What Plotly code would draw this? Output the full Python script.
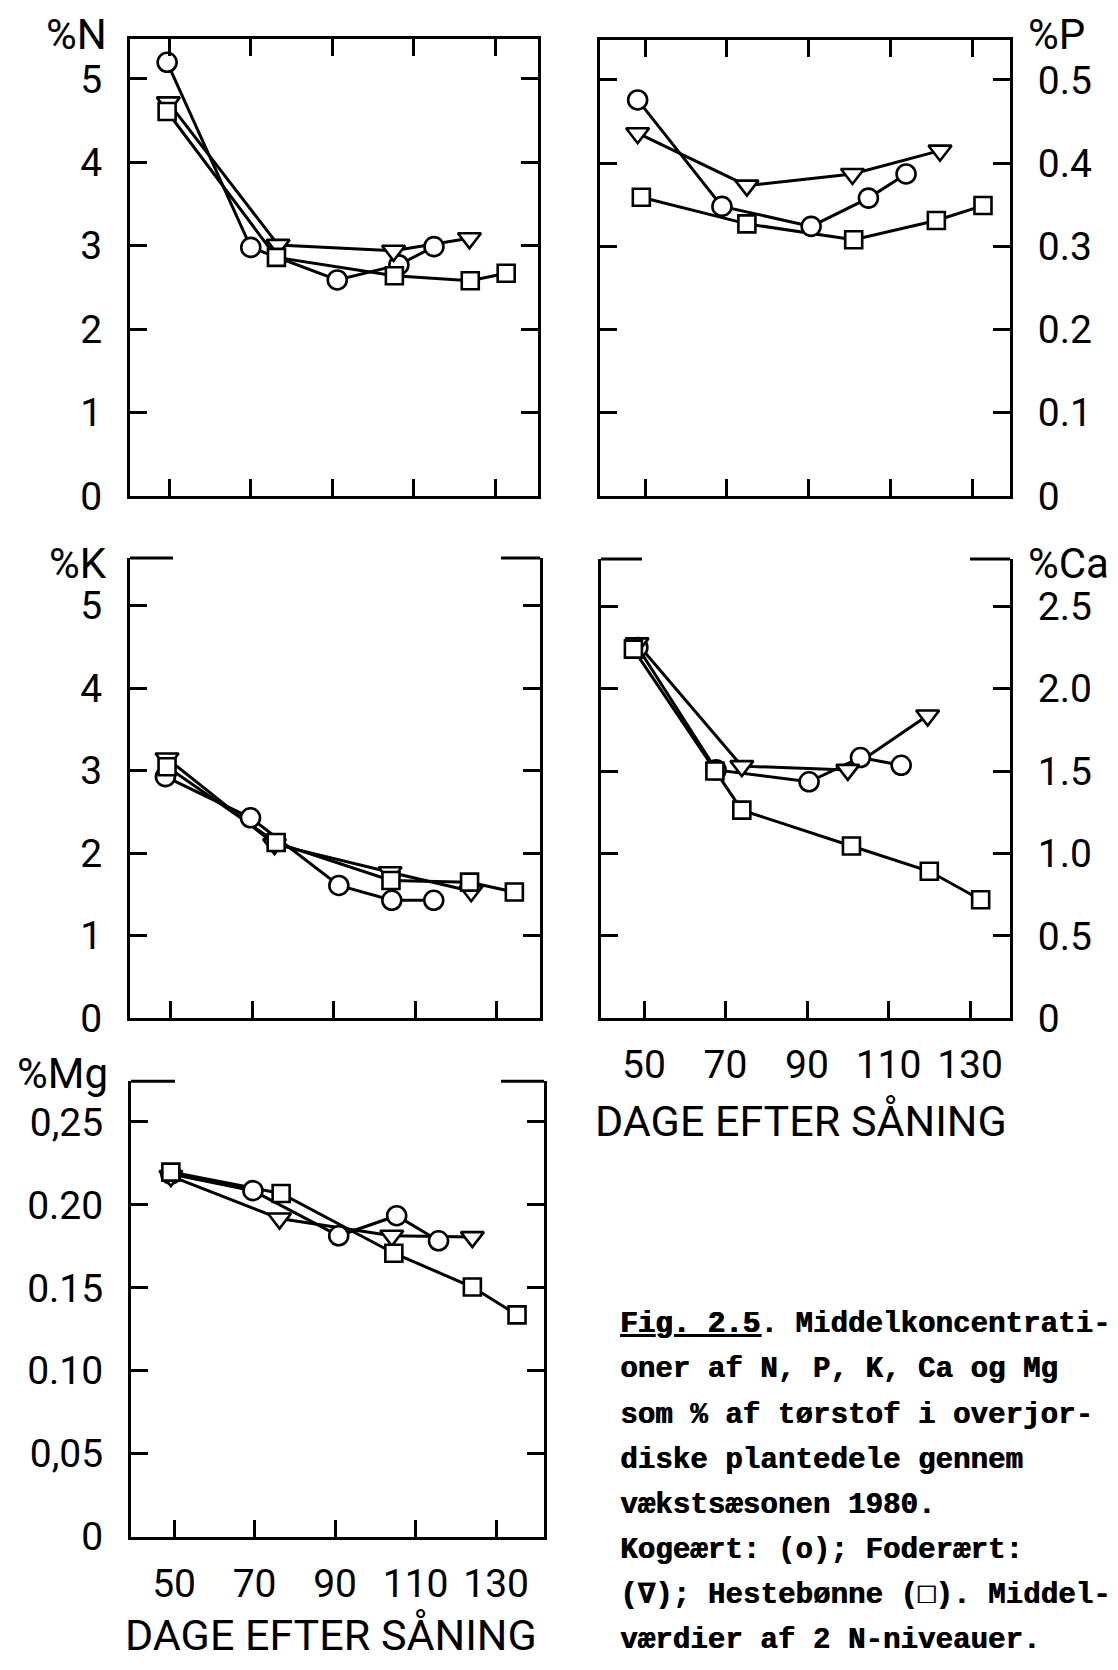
import plotly.graph_objects as go

W, H = 1118, 1670

# ---------------- data (days after sowing, % of dry matter) ----------------
N_koge_day = [49.5, 70, 91.2, 106.3, 114.9]
N_koge = [5.20, 2.98, 2.59, 2.77, 2.99]
N_foder_day = [49.8, 76.7, 105, 123.6]
N_foder = [4.72, 3.01, 2.94, 3.09]
N_heste_day = [49.5, 76.3, 105.2, 123.8, 132.6]
N_heste = [4.61, 2.86, 2.64, 2.58, 2.67]

P_koge_day = [48.2, 68.8, 90.6, 104.6, 113.8]
P_koge = [0.476, 0.348, 0.324, 0.358, 0.387]
P_foder_day = [48.2, 74.9, 100.7, 122.1]
P_foder = [0.436, 0.373, 0.387, 0.415]
P_heste_day = [49.1, 74.9, 101, 121.2, 132.6]
P_heste = [0.359, 0.327, 0.308, 0.331, 0.349]

K_koge_day = [48.7, 69.6, 91.3, 104.3, 114.6]
K_koge = [2.93, 2.43, 1.61, 1.43, 1.43]
K_foder_day = [49.1, 75.5, 103.9, 123.8]
K_foder = [3.15, 2.11, 1.77, 1.54]
K_heste_day = [49.1, 75.9, 104.1, 123.4, 134.4]
K_heste = [3.05, 2.13, 1.67, 1.65, 1.53]

Ca_koge_day = [48.5, 67.7, 90.5, 103.1, 113.1]
Ca_koge = [2.25, 1.507, 1.435, 1.582, 1.535]
Ca_foder_day = [48.3, 74, 100, 119.6]
Ca_foder = [2.275, 1.53, 1.507, 1.837]
Ca_heste_day = [47.4, 67.4, 74, 100.9, 120, 132.6]
Ca_heste = [2.24, 1.50, 1.263, 1.045, 0.892, 0.719]

Mg_koge_day = [49.2, 69.6, 90.9, 105.3, 115.7]
Mg_koge = [0.2186, 0.2086, 0.1814, 0.1935, 0.1784]
Mg_foder_day = [49.2, 76.2, 104.1, 124.1]
Mg_foder = [0.2174, 0.1918, 0.1814, 0.1806]
Mg_heste_day = [49.2, 76.6, 104.6, 124.1, 135.2]
Mg_heste = [0.2198, 0.2069, 0.1709, 0.1505, 0.1337]

x_ticks = [50, 70, 90, 110, 130]
x_ticktext = ["50", "70", "90", "110", "130"]

N_ticks = [0, 1, 2, 3, 4, 5]
N_ticktext = ["0", "1", "2", "3", "4", "5"]
P_ticks = [0, 0.1, 0.2, 0.3, 0.4, 0.5]
P_ticktext = ["0", "0.1", "0.2", "0.3", "0.4", "0.5"]
K_ticks = [0, 1, 2, 3, 4, 5]
K_ticktext = ["0", "1", "2", "3", "4", "5"]
Ca_ticks = [0, 0.5, 1.0, 1.5, 2.0, 2.5]
Ca_ticktext = ["0", "0.5", "1.0", "1.5", "2.0", "2.5"]
Mg_ticks = [0, 0.05, 0.10, 0.15, 0.20, 0.25]
Mg_ticktext = ["0", "0,05", "0.10", "0.15", "0.20", "0,25"]

x_title = "DAGE EFTER SÅNING"

caption_lines = [
    "<u>Fig. 2.5</u>. Middelkoncentrati-",
    "oner af N, P, K, Ca og Mg",
    "som % af tørstof i overjor-",
    "diske plantedele gennem",
    "vækstsæsonen 1980.",
    "Kogeært: (o); Foderært:",
    "(∇); Hestebønne (□). Middel-",
    "værdier af 2 N-niveauer.",
]

# ---------------- layout description ----------------
FONT = "Roboto, 'DejaVu Sans', sans-serif"
TICK_SIZE = 39
panels = [
    dict(box=(122, 530, 31, 495), xr=[40.4, 140.4], yr=[0, 5.485],
         yt=N_ticks, ytt=N_ticktext, side="left", title="%N", tpos=(100, 27),
         full_top=True, xlabels=False,
         data=[(N_koge_day, N_koge), (N_foder_day, N_foder), (N_heste_day, N_heste)]),
    dict(box=(592, 1002, 32, 495), xr=[39.0, 139.2], yr=[0, 0.5486],
         yt=P_ticks, ytt=P_ticktext, side="right", title="%P", tpos=(1019, 27),
         full_top=True, xlabels=False,
         data=[(P_koge_day, P_koge), (P_foder_day, P_foder), (P_heste_day, P_heste)]),
    dict(box=(122, 532, 558, 1025), xr=[40.0, 140.7], yr=[0, 5.58],
         yt=K_ticks, ytt=K_ticktext, side="left", title="%K", tpos=(100, 564),
         full_top=False, seg=(43, 39), xlabels=False,
         data=[(K_koge_day, K_koge), (K_foder_day, K_foder), (K_heste_day, K_heste)]),
    dict(box=(593, 1002, 559, 1025), xr=[39.45, 139.8], yr=[0, 2.787],
         yt=Ca_ticks, ytt=Ca_ticktext, side="right", title="%Ca", tpos=(1019, 564),
         full_top=False, seg=(41, 40), xlabels=True, xtitle_pos=(793, 1129),
         data=[(Ca_koge_day, Ca_koge), (Ca_foder_day, Ca_foder), (Ca_heste_day, Ca_heste)]),
    dict(box=(123, 536, 1089, 1551), xr=[39.3, 141.9], yr=[0, 0.2745],
         yt=Mg_ticks, ytt=Mg_ticktext, side="left", title="%Mg", tpos=(101, 1081),
         full_top=False, seg=(44, 43), xlabels=True, xtitle_pos=(323, 1650),
         data=[(Mg_koge_day, Mg_koge), (Mg_foder_day, Mg_foder), (Mg_heste_day, Mg_heste)]),
]

markers = [
    dict(symbol="circle", size=19),
    dict(symbol="triangle-down", size=20),
    dict(symbol="square", size=17),
]

fig = go.Figure()
layout = dict(
    width=W, height=H, margin=dict(l=0, r=0, t=0, b=0),
    paper_bgcolor="white", plot_bgcolor="white", showlegend=False,
    font=dict(family=FONT, color="black", size=TICK_SIZE),
)
annotations = []
shapes = []

for i, p in enumerate(panels, start=1):
    l, r, t, b = p["box"]
    xname = "xaxis" if i == 1 else f"xaxis{i}"
    yname = "yaxis" if i == 1 else f"yaxis{i}"
    xref = "x" if i == 1 else f"x{i}"
    yref = "y" if i == 1 else f"y{i}"
    layout[xname] = dict(
        domain=[l / W, r / W], range=p["xr"], anchor=yref,
        tickmode="array", tickvals=x_ticks, ticktext=x_ticktext,
        ticks="inside", ticklen=17, tickwidth=3, tickcolor="black",
        showline=True, linewidth=3, linecolor="black",
        mirror="ticks" if p["full_top"] else False,
        showticklabels=p["xlabels"], ticklabelstandoff=10,
        tickfont=dict(size=TICK_SIZE, family=FONT),
        showgrid=False, zeroline=False, fixedrange=True,
    )
    layout[yname] = dict(
        domain=[1 - b / H, 1 - t / H], range=p["yr"], anchor=xref,
        side=p["side"],
        tickmode="array", tickvals=p["yt"], ticktext=p["ytt"],
        ticks="inside", ticklen=17, tickwidth=3, tickcolor="black",
        showline=True, linewidth=3, linecolor="black", mirror="ticks",
        ticklabelstandoff=17,
        tickfont=dict(size=TICK_SIZE, family=FONT),
        showgrid=False, zeroline=False, fixedrange=True,
    )
    for (xs, ys) in p["data"]:
        fig.add_trace(go.Scatter(x=xs, y=ys, mode="lines",
                                 line=dict(color="black", width=3),
                                 xaxis=xref, yaxis=yref, hoverinfo="skip",
                                 cliponaxis=False))
    for (xs, ys), m in zip(p["data"], markers):
        fig.add_trace(go.Scatter(x=xs, y=ys, mode="markers",
                                 marker=dict(symbol=m["symbol"], size=m["size"],
                                             color="white",
                                             line=dict(color="black", width=2.6)),
                                 xaxis=xref, yaxis=yref, hoverinfo="skip",
                                 cliponaxis=False))
    tx, ty = p["tpos"]
    annotations.append(dict(text=p["title"], x=tx / W, y=1 - ty / H, xref="paper", yref="paper",
                            xanchor="right" if p["side"] == "left" else "left",
                            yanchor="middle", showarrow=False, borderpad=0,
                            font=dict(size=42, family=FONT, color="black")))
    if not p["full_top"]:
        sl, sr = p["seg"]
        w = r - l
        shapes.append(dict(type="line", xref=f"{xref} domain", yref=f"{yref} domain",
                           x0=0, x1=sl / w, y0=1, y1=1,
                           line=dict(color="black", width=3)))
        shapes.append(dict(type="line", xref=f"{xref} domain", yref=f"{yref} domain",
                           x0=1 - sr / w, x1=1, y0=1, y1=1,
                           line=dict(color="black", width=3)))
    if p["xlabels"]:
        qx, qy = p["xtitle_pos"]
        annotations.append(dict(text=x_title, x=qx / W, y=1 - qy / H, xref="paper", yref="paper",
                                xanchor="center", yanchor="middle", showarrow=False,
                                borderpad=0,
                                font=dict(size=43, family=FONT, color="black")))

# caption
for k, line in enumerate(caption_lines):
    yc = 1336 + 45.8 * k
    annotations.append(dict(text=f"<b>{line}</b>", x=611 / W, y=1 - yc / H,
                            xref="paper", yref="paper", xanchor="left", yanchor="middle",
                            showarrow=False, borderpad=0,
                            font=dict(size=29.2, family="'Liberation Mono', 'DejaVu Sans Mono', monospace",
                                      color="black", shadow="0.7px 0px 0px black")))

layout["annotations"] = annotations
layout["shapes"] = shapes
fig.update_layout(**layout)
fig.write_html("out.html")
